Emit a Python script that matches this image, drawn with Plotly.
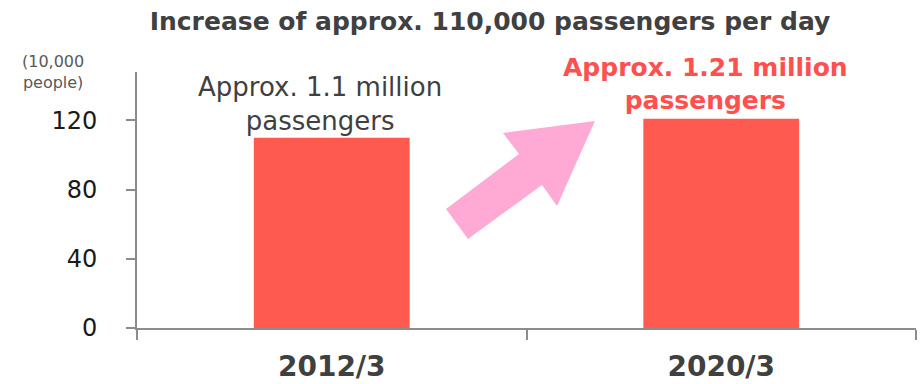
import plotly.graph_objects as go

categories = ["2012/3", "2020/3"]
values = [110, 121]
y_ticks = [0, 40, 80, 120]
title_text = "Increase of approx. 110,000 passengers per day"
unit_text = "(10,000<br>people)"
label_texts = ["Approx. 1.1 million<br>passengers", "Approx. 1.21 million<br>passengers"]

BAR = "#FF5A4F"
AXIS = "#8C8C8C"
DARK = "#404040"
FONT = "DejaVu Sans"

fig = go.Figure()
fig.add_trace(go.Bar(
    x=categories, y=values, width=0.4,
    marker=dict(color=BAR, line=dict(width=0)),
    hoverinfo="skip",
))

# plot area in pixels: x 137..916, y 72..328
L, R, T, B = 137, 916, 72, 328
W, H = 921, 384

def px(x, y):
    return (x - L) / (R - L), (B - y) / (B - T)

arrow_px = [(446, 209), (468, 239), (542, 185), (557, 206), (595, 121), (503, 133), (519, 154)]
pts = [px(x, y) for x, y in arrow_px]
path = "M " + " L ".join(f"{a:.4f},{b:.4f}" for a, b in pts) + " Z"
fig.add_shape(type="path", path=path, xref="paper", yref="paper",
              fillcolor="#FFAAD5", line=dict(width=0), layer="above")

fig.add_annotation(text=label_texts[0], x=categories[0], y=values[0], xref="x", yref="y",
                   xshift=-12, yshift=0, yanchor="bottom", showarrow=False,
                   font=dict(family=FONT, size=26, color=DARK))
fig.add_annotation(text="<b>" + label_texts[1] + "</b>", x=categories[1], y=values[1], xref="x", yref="y",
                   xshift=-16, yshift=2, yanchor="bottom", showarrow=False,
                   font=dict(family=FONT, size=25, color="#FF5050"))
ux, uy = px(53, 72)
fig.add_annotation(text=unit_text, x=ux, y=uy, xref="paper", yref="paper",
                   xanchor="center", yanchor="middle", showarrow=False, align="center",
                   font=dict(family=FONT, size=16, color="#595959"))

fig.update_layout(
    width=W, height=H,
    margin=dict(l=L, r=W - R, t=T, b=H - B, autoexpand=False),
    paper_bgcolor="white", plot_bgcolor="white",
    showlegend=False,
    title=dict(text="<b>" + title_text + "</b>", x=490 / W, xanchor="center",
               y=1 - 21 / H, yanchor="middle", automargin=False,
               font=dict(family=FONT, size=25, color=DARK)),
    font=dict(family=FONT),
)
fig.update_xaxes(
    type="category", range=[-0.5, 1.5], tickson="boundaries",
    showline=True, linecolor=AXIS, linewidth=2,
    ticks="outside", ticklen=10, tickwidth=1.5, tickcolor=AXIS,
    showgrid=False, zeroline=False, automargin=False,
    tickfont=dict(family=FONT, size=28, color=DARK),
    tickprefix="<b>", ticksuffix="</b>",
    ticklabelstandoff=12,
)
fig.update_yaxes(
    range=[0, 148], tickvals=y_ticks,
    showline=True, linecolor=AXIS, linewidth=2,
    ticks="outside", ticklen=9, tickwidth=1.5, tickcolor=AXIS,
    showgrid=False, zeroline=False, automargin=False,
    tickfont=dict(family=FONT, size=24, color="#1a1a1a"),
    ticklabelstandoff=24,
)

fig.write_html("out.html")
